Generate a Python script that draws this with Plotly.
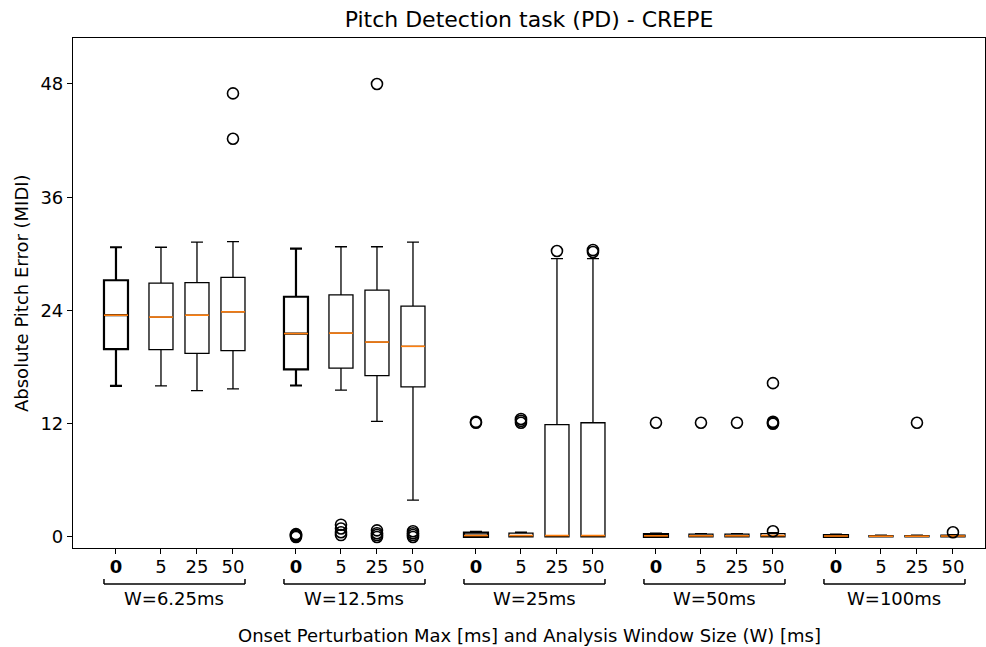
import plotly.graph_objects as go

groups = ["W=6.25ms", "W=12.5ms", "W=25ms", "W=50ms", "W=100ms"]
perturb = ["0", "5", "25", "50"]

# box statistics, 20 boxes (group-major)
lower = [16.0, 16.0, 15.5, 15.7,
         16.05, 15.55, 12.25, 3.9,
         0.0, 0.0, 0.0, 0.0,
         0.0, 0.0, 0.0, 0.0,
         0.0, 0.0, 0.0, 0.0]
q1 = [19.9, 19.85, 19.45, 19.75,
      17.75, 17.9, 17.1, 15.9,
      0.0, 0.0, 0.0, 0.0,
      0.0, 0.0, 0.0, 0.0,
      0.0, 0.0, 0.0, 0.0]
median = [23.5, 23.3, 23.5, 23.85,
          21.55, 21.6, 20.65, 20.2,
          0.15, 0.15, 0.15, 0.15,
          0.12, 0.12, 0.12, 0.15,
          0.1, 0.08, 0.08, 0.1]
q3 = [27.2, 26.9, 26.95, 27.5,
      25.45, 25.65, 26.15, 24.45,
      0.45, 0.4, 11.9, 12.1,
      0.3, 0.3, 0.3, 0.35,
      0.2, 0.15, 0.15, 0.2]
upper = [30.7, 30.7, 31.25, 31.3,
         30.55, 30.75, 30.75, 31.25,
         0.55, 0.5, 29.5, 29.5,
         0.35, 0.35, 0.35, 0.45,
         0.25, 0.2, 0.2, 0.25]
outliers = [[], [], [], [47.0, 42.2],
            [0.0, 0.1, 0.2, 0.3], [0.2, 0.5, 0.9, 1.3], [48.0, 0.0, 0.2, 0.4, 0.7], [0.0, 0.2, 0.4, 0.6],
            [12.1, 12.2], [12.1, 12.3, 12.5], [30.3], [30.2, 30.4],
            [12.1], [12.1], [12.1], [12.0, 12.1, 12.2, 16.3, 0.6],
            [], [], [12.1], [0.5]]

offsets = [0.0, 1.25, 2.25, 3.25]
group_step = 5.0
box_w = 0.667

positions = []
ticktext = []
for g in range(len(groups)):
    for k, p in enumerate(perturb):
        positions.append(g * group_step + offsets[k])
        ticktext.append("<b>0</b>" if p == "0" else p)

fig = go.Figure()
for i, x in enumerate(positions):
    lw = 2.2 if i % 4 == 0 else 1.3
    fig.add_trace(go.Box(
        x=[x], q1=[q1[i]], median=[median[i]], q3=[q3[i]],
        lowerfence=[lower[i]], upperfence=[upper[i]],
        width=box_w, whiskerwidth=0.5, boxpoints=False,
        line=dict(color="black", width=lw), fillcolor="rgba(0,0,0,0)",
        showlegend=False, hoverinfo="skip"))
    fig.add_trace(go.Scatter(
        x=[x - box_w / 2, x + box_w / 2], y=[median[i], median[i]],
        mode="lines", line=dict(color="#ff7f0e", width=1.6),
        showlegend=False, hoverinfo="skip"))
    if outliers[i]:
        fig.add_trace(go.Scatter(
            x=[x] * len(outliers[i]), y=outliers[i], mode="markers",
            marker=dict(symbol="circle-open", size=11, color="black",
                        line=dict(width=1.6, color="black")),
            showlegend=False, hoverinfo="skip"))

# group brackets and labels
shapes = []
annotations = []
for g, name in enumerate(groups):
    x0 = positions[g * 4] - box_w / 2
    x1 = positions[g * 4 + 3] + box_w / 2
    yb, yt = -(584 - 548) / 510, -(579 - 548) / 510
    for (a, b, c, d) in [(x0, yb, x1, yb), (x0, yb, x0, yt), (x1, yb, x1, yt)]:
        shapes.append(dict(type="line", xref="x", yref="paper", x0=a, y0=b, x1=c, y1=d,
                           line=dict(color="black", width=1.5)))
    annotations.append(dict(text=name, xref="x", yref="paper", x=(x0 + x1) / 2,
                            y=-(598 - 548) / 510,
                            showarrow=False, yanchor="middle",
                            font=dict(size=18, color="black")))

annotations.append(dict(text="Onset Perturbation Max [ms] and Analysis Window Size (W) [ms]",
                        xref="paper", yref="paper", x=0.5, y=-(635 - 548) / 510, showarrow=False,
                        yanchor="middle", font=dict(size=18, color="black")))
annotations.append(dict(text="Absolute Pitch Error (MIDI)", xref="paper", yref="paper",
                        x=-(73 - 21) / 912, y=0.5, textangle=-90, showarrow=False,
                        xanchor="center", yanchor="middle", font=dict(size=18, color="black")))

fig.update_layout(
    width=986, height=647,
    margin=dict(l=73, r=1, t=38, b=99),
    paper_bgcolor="white", plot_bgcolor="white",
    font=dict(family="DejaVu Sans", size=18, color="black"),
    title=dict(text="Pitch Detection task (PD) - CREPE", x=(73 + 985) / 2 / 986, xanchor="center",
               y=1 - 19 / 647, yanchor="middle", font=dict(size=22)),
    shapes=shapes, annotations=annotations,
    xaxis=dict(range=[-1.194, 24.14], tickmode="array", tickvals=positions, ticktext=ticktext,
               ticks="outside", ticklen=5, tickwidth=1.2, tickcolor="black",
               ticklabelstandoff=-3,
               showline=True, linecolor="black", linewidth=1.2, mirror=True,
               showgrid=False, zeroline=False, tickfont=dict(size=18)),
    yaxis=dict(range=[-1.17, 52.87], tickmode="array", tickvals=[0, 12, 24, 36, 48],
               ticks="outside", ticklen=5, tickwidth=1.2, tickcolor="black",
               showline=True, linecolor="black", linewidth=1.2, mirror=True,
               showgrid=False, zeroline=False, tickfont=dict(size=18)),
)

fig.write_html("out.html")
